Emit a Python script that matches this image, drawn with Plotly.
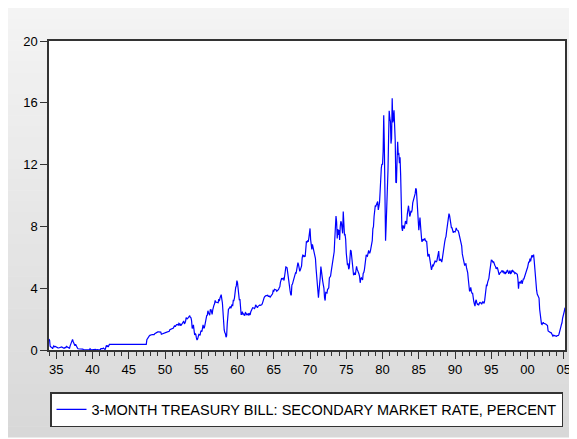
import pandas as pd
import plotly.graph_objects as go

# Monthly 3-month T-bill secondary market rate (percent), Jan 1934 - Mar 2005
rate_1930s = [
    0.72, 0.62, 0.24, 0.15, 0.16, 0.15, 0.08, 0.20, 0.27, 0.21, 0.24, 0.23,  # 1934
    0.19, 0.16, 0.11, 0.14, 0.13, 0.15, 0.15, 0.19, 0.21, 0.20, 0.18, 0.14,  # 1935
    0.12, 0.14, 0.13, 0.17, 0.16, 0.23, 0.17, 0.18, 0.15, 0.14, 0.12, 0.27,  # 1936
    0.41, 0.49, 0.58, 0.69, 0.55, 0.40, 0.36, 0.28, 0.37, 0.24, 0.13, 0.13,  # 1937
    0.08, 0.08, 0.06, 0.05, 0.05, 0.05, 0.04, 0.05, 0.06, 0.02, 0.01, 0.01,  # 1938
    0.03, 0.01, 0.01, 0.01, 0.01, 0.01, 0.01, 0.01, 0.08, 0.03, 0.01, 0.01,  # 1939
]
rate_1940s = [
    0.02, 0.01, 0.01, 0.01, 0.03, 0.04, 0.01, 0.05, 0.03, 0.01, 0.01, 0.01,  # 1940
    0.04, 0.03, 0.09, 0.09, 0.08, 0.09, 0.13, 0.12, 0.06, 0.02, 0.24, 0.30,  # 1941
    0.23, 0.26, 0.19, 0.36, 0.36, 0.36, 0.37, 0.37, 0.37, 0.37, 0.37, 0.36,  # 1942
    0.37, 0.37, 0.37, 0.37, 0.37, 0.37, 0.37, 0.37, 0.37, 0.37, 0.37, 0.37,  # 1943
    0.37, 0.37, 0.37, 0.37, 0.37, 0.37, 0.37, 0.37, 0.37, 0.37, 0.37, 0.37,  # 1944
    0.37, 0.37, 0.37, 0.37, 0.37, 0.37, 0.37, 0.37, 0.37, 0.37, 0.37, 0.37,  # 1945
    0.37, 0.37, 0.37, 0.37, 0.37, 0.37, 0.37, 0.37, 0.37, 0.37, 0.37, 0.37,  # 1946
    0.37, 0.37, 0.37, 0.37, 0.37, 0.37, 0.66, 0.75, 0.80, 0.85, 0.91, 0.95,  # 1947
    0.97, 1.00, 1.00, 1.00, 1.00, 1.00, 1.00, 1.06, 1.09, 1.12, 1.14, 1.16,  # 1948
    1.17, 1.17, 1.17, 1.17, 1.17, 1.16, 1.02, 1.04, 1.07, 1.04, 1.07, 1.10,  # 1949
]
rate_1950s = [
    1.10, 1.13, 1.14, 1.16, 1.17, 1.17, 1.17, 1.21, 1.31, 1.33, 1.36, 1.37,  # 1950
    1.39, 1.39, 1.42, 1.52, 1.58, 1.50, 1.59, 1.64, 1.65, 1.61, 1.61, 1.73,  # 1951
    1.69, 1.57, 1.66, 1.62, 1.71, 1.70, 1.82, 1.88, 1.71, 1.74, 1.85, 2.09,  # 1952
    2.04, 2.02, 2.08, 2.18, 2.20, 2.23, 2.10, 2.09, 1.88, 1.40, 1.43, 1.63,  # 1953
    1.21, 0.98, 1.05, 1.01, 0.78, 0.65, 0.71, 0.89, 1.01, 0.99, 0.95, 1.17,  # 1954
    1.26, 1.18, 1.33, 1.62, 1.45, 1.41, 1.60, 1.90, 2.07, 2.23, 2.25, 2.54,  # 1955
    2.41, 2.32, 2.25, 2.60, 2.61, 2.49, 2.31, 2.60, 2.84, 2.90, 2.99, 3.21,  # 1956
    3.11, 3.10, 3.08, 3.06, 3.06, 3.29, 3.16, 3.37, 3.53, 3.58, 3.29, 3.04,  # 1957
    2.44, 1.53, 1.30, 1.13, 1.06, 0.83, 0.91, 1.69, 2.44, 2.63, 2.67, 2.77,  # 1958
    2.82, 2.70, 2.80, 2.95, 2.84, 3.21, 3.20, 3.38, 4.04, 4.05, 4.15, 4.49,  # 1959
]
rate_1960s = [
    4.35, 3.96, 3.31, 3.23, 3.29, 2.46, 2.30, 2.30, 2.48, 2.30, 2.37, 2.25,  # 1960
    2.24, 2.42, 2.39, 2.29, 2.29, 2.33, 2.24, 2.39, 2.28, 2.30, 2.48, 2.60,  # 1961
    2.72, 2.73, 2.72, 2.73, 2.68, 2.73, 2.92, 2.82, 2.78, 2.74, 2.83, 2.87,  # 1962
    2.91, 2.92, 2.89, 2.90, 2.92, 2.99, 3.18, 3.32, 3.38, 3.45, 3.52, 3.52,  # 1963
    3.52, 3.53, 3.54, 3.47, 3.48, 3.48, 3.42, 3.50, 3.53, 3.57, 3.64, 3.84,  # 1964
    3.81, 3.93, 3.93, 3.93, 3.89, 3.80, 3.84, 3.84, 3.92, 4.03, 4.09, 4.38,  # 1965
    4.59, 4.65, 4.59, 4.62, 4.64, 4.50, 4.80, 4.96, 5.37, 5.35, 5.32, 4.96,  # 1966
    4.72, 4.56, 4.26, 3.84, 3.60, 3.54, 4.21, 4.27, 4.42, 4.56, 4.73, 4.97,  # 1967
    5.00, 4.98, 5.17, 5.38, 5.66, 5.52, 5.31, 5.09, 5.19, 5.35, 5.45, 5.96,  # 1968
    6.14, 6.12, 6.02, 6.11, 6.04, 6.44, 7.00, 6.98, 7.09, 7.00, 7.24, 7.82,  # 1969
]
rate_1970s = [
    7.87, 7.13, 6.63, 6.51, 6.84, 6.68, 6.45, 6.41, 6.12, 5.91, 5.28, 4.87,  # 1970
    4.44, 3.70, 3.38, 3.86, 4.14, 4.75, 5.40, 4.94, 4.69, 4.46, 4.22, 4.01,  # 1971
    3.38, 3.20, 3.73, 3.71, 3.69, 3.91, 3.98, 4.02, 4.66, 4.74, 4.78, 5.07,  # 1972
    5.41, 5.60, 6.09, 6.26, 6.36, 7.19, 8.01, 8.67, 8.29, 7.22, 7.83, 7.45,  # 1973
    7.77, 7.12, 7.96, 8.33, 8.23, 7.90, 7.55, 8.96, 8.06, 7.46, 7.47, 7.15,  # 1974
    6.26, 5.50, 5.49, 5.61, 5.23, 5.34, 6.13, 6.44, 6.42, 5.96, 5.48, 5.44,  # 1975
    4.87, 4.88, 5.00, 4.86, 5.20, 5.41, 5.23, 5.14, 5.08, 4.92, 4.75, 4.35,  # 1976
    4.62, 4.67, 4.60, 4.54, 4.96, 5.02, 5.19, 5.49, 5.81, 6.16, 6.10, 6.07,  # 1977
    6.44, 6.45, 6.29, 6.29, 6.41, 6.73, 7.01, 7.08, 7.85, 7.99, 8.64, 9.08,  # 1978
    9.35, 9.32, 9.48, 9.46, 9.61, 9.06, 9.24, 9.52, 10.26, 11.70, 11.79, 12.04,  # 1979
]
rate_1980s = [
    12.00, 12.86, 15.20, 13.20, 8.58, 7.07, 8.06, 9.13, 10.27, 11.62, 13.73, 15.49,  # 1980
    15.02, 14.79, 13.36, 13.69, 16.30, 14.73, 14.95, 15.51, 14.70, 13.54, 10.86, 10.85,  # 1981
    12.28, 13.48, 12.68, 12.70, 12.09, 12.47, 11.35, 8.68, 7.92, 7.71, 8.07, 7.94,  # 1982
    7.86, 8.11, 8.35, 8.21, 8.19, 8.79, 9.08, 9.34, 9.00, 8.64, 8.76, 9.00,  # 1983
    8.90, 9.09, 9.52, 9.69, 9.83, 9.87, 10.12, 10.47, 10.37, 9.74, 8.61, 8.06,  # 1984
    7.76, 8.22, 8.57, 8.00, 7.56, 7.01, 7.05, 7.18, 7.08, 7.17, 7.20, 7.07,  # 1985
    7.04, 7.03, 6.59, 6.06, 6.12, 6.21, 5.84, 5.57, 5.19, 5.18, 5.35, 5.49,  # 1986
    5.45, 5.59, 5.56, 5.76, 5.75, 5.69, 5.78, 6.00, 6.32, 6.40, 5.81, 5.80,  # 1987
    5.90, 5.69, 5.69, 5.92, 6.27, 6.50, 6.73, 7.02, 7.23, 7.34, 7.68, 8.09,  # 1988
    8.29, 8.48, 8.83, 8.70, 8.40, 8.22, 7.92, 7.91, 7.72, 7.59, 7.67, 7.64,  # 1989
]
rate_1990s = [
    7.64, 7.74, 7.90, 7.77, 7.74, 7.73, 7.62, 7.45, 7.36, 7.17, 7.06, 6.74,  # 1990
    6.22, 5.94, 5.91, 5.65, 5.46, 5.57, 5.58, 5.33, 5.22, 4.99, 4.56, 4.07,  # 1991
    3.80, 3.84, 4.05, 3.81, 3.66, 3.70, 3.28, 3.14, 2.97, 2.84, 3.14, 3.25,  # 1992
    3.06, 2.95, 2.97, 2.89, 2.96, 3.10, 3.05, 3.05, 2.96, 3.04, 3.12, 3.08,  # 1993
    3.02, 3.21, 3.52, 3.74, 4.19, 4.18, 4.39, 4.50, 4.64, 4.96, 5.25, 5.64,  # 1994
    5.81, 5.80, 5.73, 5.67, 5.70, 5.50, 5.47, 5.41, 5.26, 5.30, 5.35, 5.16,  # 1995
    5.02, 4.87, 4.96, 4.99, 5.02, 5.09, 5.15, 5.05, 5.09, 4.99, 5.03, 4.91,  # 1996
    5.03, 5.01, 5.14, 5.16, 5.05, 4.93, 5.05, 5.14, 4.95, 4.97, 5.14, 5.16,  # 1997
    5.04, 5.09, 5.03, 4.95, 5.00, 4.98, 4.96, 4.90, 4.61, 3.96, 4.41, 4.39,  # 1998
    4.34, 4.45, 4.48, 4.28, 4.51, 4.59, 4.60, 4.76, 4.73, 4.88, 5.07, 5.23,  # 1999
]
rate_2000s = [
    5.34, 5.57, 5.72, 5.67, 5.92, 5.74, 6.03, 6.13, 6.01, 6.11, 6.17, 5.77,  # 2000
    5.15, 4.88, 4.42, 3.87, 3.62, 3.49, 3.51, 3.36, 2.64, 2.16, 1.87, 1.69,  # 2001
    1.65, 1.73, 1.79, 1.72, 1.73, 1.70, 1.68, 1.62, 1.63, 1.58, 1.23, 1.19,  # 2002
    1.17, 1.17, 1.13, 1.13, 1.07, 0.92, 0.90, 0.95, 0.94, 0.92, 0.93, 0.90,  # 2003
    0.88, 0.93, 0.94, 0.94, 1.02, 1.27, 1.33, 1.48, 1.65, 1.76, 2.07, 2.19,  # 2004
    2.33, 2.54, 2.74,                                                        # 2005
]

rate = rate_1930s + rate_1940s + rate_1950s + rate_1960s + rate_1970s + rate_1980s + rate_1990s + rate_2000s
dates = pd.date_range("1934-01-01", periods=len(rate), freq="MS")

series_name = "3-MONTH TREASURY BILL: SECONDARY MARKET RATE, PERCENT"
y_ticks = [0, 4, 8, 12, 16, 20]

# The page body has an 8px margin, so the figure is drawn 8px in from the window edge.
OFF = 8
W, H = 577 - OFF, 439 - OFF
L, R, T, B = 49 - OFF, 565 - OFF, 41 - OFF, 350 - OFF   # plot area in figure pixels
pw, ph = R - L, B - T

def px(x):
    return (x - L) / pw

def py(y):
    return (B - y) / ph

fig = go.Figure()
fig.add_trace(go.Scatter(
    x=dates, y=rate, mode="lines", name=series_name,
    line=dict(color="#0000FF", width=1.2),
))

# gray gradient panel behind the chart
shapes = []
top_px, bot_px = 0, 437 - OFF
n = 40
c_top, c_bot = 0xF4, 0xD8
for i in range(n):
    y0 = top_px + (bot_px - top_px) * i / n
    y1 = top_px + (bot_px - top_px) * (i + 1) / n
    c = int(round(c_top + (c_bot - c_top) * (i + 0.5) / n))
    col = f"rgb({c},{c},{c})"
    shapes.append(dict(type="rect", xref="paper", yref="paper", layer="below",
                       x0=px(0), x1=px(575 - OFF), y0=py(y1 + 0.5), y1=py(y0),
                       fillcolor=col, line=dict(width=0)))
shapes.append(dict(type="rect", xref="paper", yref="paper", layer="below",
                   x0=0, x1=1, y0=0, y1=1, fillcolor="white", line=dict(width=0)))

font = dict(family="Liberation Sans, Arial, sans-serif", size=13, color="black")
legend_font = dict(family="Liberation Sans, Arial, sans-serif", size=14.5, color="black")

fig.update_layout(
    width=W, height=H,
    margin=dict(l=L, r=W - R, t=T, b=H - B, pad=0, autoexpand=False),
    paper_bgcolor="white", plot_bgcolor="white",
    font=font,
    shapes=shapes,
    showlegend=True,
    legend=dict(
        x=px(50 - OFF), y=py(392 - OFF), xanchor="left", yanchor="top",
        bgcolor="white", bordercolor="#333333", borderwidth=1.5,
        font=legend_font, itemwidth=30, tracegroupgap=0,
    ),
    xaxis=dict(
        type="date",
        range=[dates[0], dates[-1]],
        tickformat="%y", dtick="M60", tick0="1935-01-01",
        ticks="outside", ticklen=7, tickwidth=1, tickcolor="#333333",
        minor=dict(dtick="M12", tick0="1935-01-01", ticks="outside", ticklen=4,
                   tickwidth=1, tickcolor="#333333", showgrid=False),
        showgrid=False, zeroline=False,
        showline=True, linecolor="#333333", linewidth=1.5, mirror=True,
        tickfont=font,
    ),
    yaxis=dict(
        range=[0, 20], tickvals=y_ticks,
        ticks="outside", ticklen=7, tickwidth=1, tickcolor="#333333",
        showgrid=False, zeroline=False,
        showline=True, linecolor="#333333", linewidth=1.5, mirror=True,
        tickfont=font,
    ),
)

fig.write_html("out.html")
